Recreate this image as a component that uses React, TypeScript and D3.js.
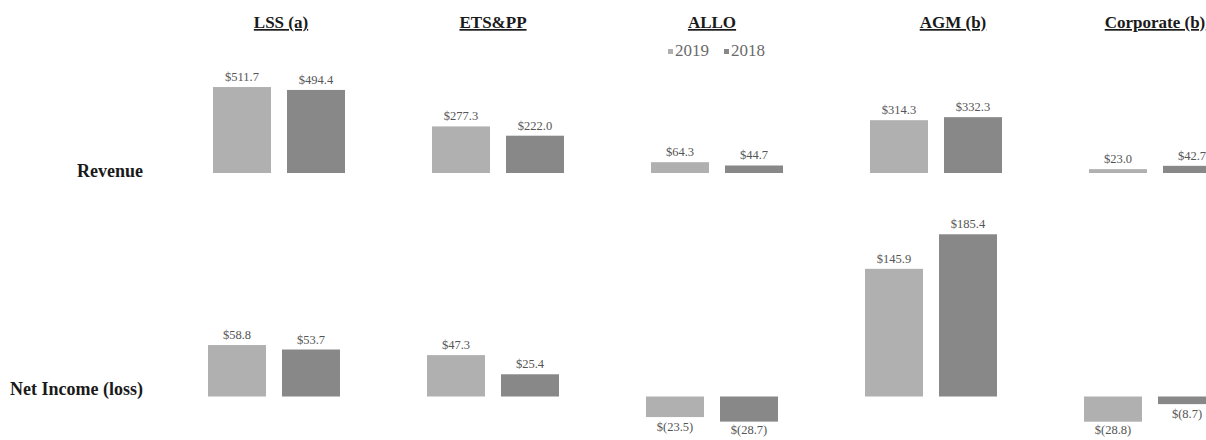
import React from "react";
import * as d3 from "d3";

// Business segments and the two fiscal years shown side by side
const segments = ["LSS (a)", "ETS&PP", "ALLO", "AGM (b)", "Corporate (b)"];
const years = ["2019", "2018"];

// Revenue, $ millions
const revenue2019 = [511.7, 277.3, 64.3, 314.3, 23.0];
const revenue2018 = [494.4, 222.0, 44.7, 332.3, 42.7];

// Net income (loss), $ millions
const netIncome2019 = [58.8, 47.3, -23.5, 145.9, -28.8];
const netIncome2018 = [53.7, 25.4, -28.7, 185.4, -8.7];

const rowLabels = ["Revenue", "Net Income (loss)"];

const W = 1206;
const H = 440;

const yearColor: Record<string, string> = { "2019": "#b0b0b0", "2018": "#888888" };
const serif = "'Liberation Serif', 'Times New Roman', serif";

// Horizontal placement of the segment groups and the bars within a group
const xGroup = d3
  .scaleBand<string>()
  .domain(segments)
  .range([213, 213 + 219 * segments.length])
  .paddingInner(0)
  .paddingOuter(0)
  .align(0);
const xYear = d3.scaleBand<string>().domain(years).range([0, 132]).paddingInner(16 / 74);

// Each row has its own value scale
const yRevenue = d3.scaleLinear().domain([0, 600]).range([173, 173 - 0.168 * 600]);
const yNet = d3.scaleLinear().domain([-40, 200]).range([396.5 + 40 * 0.875, 396.5 - 200 * 0.875]);

const titleNudge = [2, -5, -5, 17, 0];

const fmt = (v: number) => (v < 0 ? `$(${Math.abs(v).toFixed(1)})` : `$${v.toFixed(1)}`);

type Row = {
  key: string;
  y: d3.ScaleLinear<number, number>;
  values: Record<string, number[]>;
  shift: number;
};

const rows: Row[] = [
  { key: "rev", y: yRevenue, values: { "2019": revenue2019, "2018": revenue2018 }, shift: 0 },
  { key: "net", y: yNet, values: { "2019": netIncome2019, "2018": netIncome2018 }, shift: -5 },
];

export default function App() {
  return (
    <svg
      width={W}
      height={H}
      style={{ position: "absolute", left: 0, top: 0, background: "#fff" }}
      fontFamily={serif}
    >
      <rect width={W} height={H} fill="#fff" />

      {/* segment titles */}
      {segments.map((s, i) => (
        <text
          key={s}
          x={(xGroup(s) as number) + 66 + titleNudge[i]}
          y={28}
          textAnchor="middle"
          fontSize={17}
          fontWeight="bold"
          fill="#1a1a1a"
          textDecoration="underline"
          style={{ textDecoration: "underline" }}
        >
          {s}
        </text>
      ))}

      {/* legend */}
      {years.map((yr, i) => {
        const lx = 668 + i * 56;
        return (
          <g key={yr}>
            <rect x={lx} y={49} width={5} height={5} fill={yearColor[yr]} />
            <text x={lx + 7} y={56} fontSize={17} fill="#6a6a6a">
              {yr}
            </text>
          </g>
        );
      })}

      {/* row labels */}
      <text x={143} y={177} textAnchor="end" fontSize={18} fontWeight="bold" fill="#1a1a1a">
        {rowLabels[0]}
      </text>
      <text x={143} y={395} textAnchor="end" fontSize={18} fontWeight="bold" fill="#1a1a1a">
        {rowLabels[1]}
      </text>

      {/* bars with value labels */}
      {rows.map((row) => (
        <g key={row.key}>
          {segments.map((s, i) =>
            years.map((yr) => {
              const v = row.values[yr][i];
              const x = (xGroup(s) as number) + (xYear(yr) as number) + row.shift;
              const bw = xYear.bandwidth();
              const y0 = row.y(0);
              const y1 = row.y(v);
              const top = Math.min(y0, y1);
              const h = Math.abs(y1 - y0);
              const labelY = v >= 0 ? top - 6 : Math.min(top + h + 14, 434);
              return (
                <g key={s + yr}>
                  <rect x={x} y={top} width={bw} height={h} fill={yearColor[yr]} />
                  <text
                    x={x + bw / 2}
                    y={labelY}
                    textAnchor="middle"
                    fontSize={12.5}
                    fill="#555"
                  >
                    {fmt(v)}
                  </text>
                </g>
              );
            })
          )}
        </g>
      ))}
    </svg>
  );
}
